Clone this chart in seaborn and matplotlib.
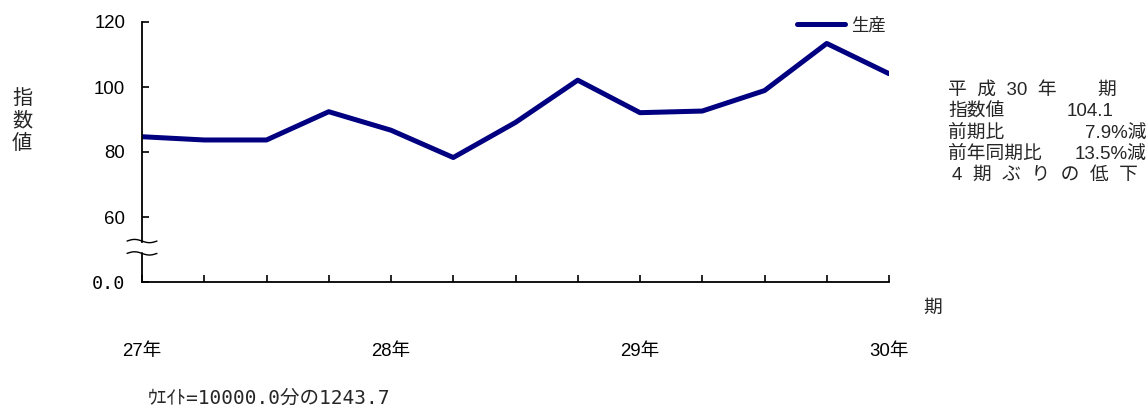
import numpy as np
import pandas as pd
import matplotlib
matplotlib.use("Agg")
import matplotlib.pyplot as plt
import seaborn as sns

# 生産指数（期ごと）
periods = list(range(13))
production = [84.7, 83.7, 83.7, 92.4, 86.7, 78.3, 89.1, 102.1, 92.1, 92.6, 98.9, 113.4, 104.1]
year_labels = ["27年", "", "", "", "28年", "", "", "", "29年", "", "", "", "30年"]
ytick_values = [40, 60, 80, 100, 120]
ytick_labels = ["0.0", "60", "80", "100", "120"]

sns.set_style("white")
SANS = ["Liberation Sans", "Noto Sans CJK JP"]
MONO = ["DejaVu Sans Mono", "Noto Sans CJK JP"]
plt.rcParams["font.family"] = SANS

W, H = 1148, 408
fig = plt.figure(figsize=(W / 100, H / 100), dpi=100)
ax = fig.add_axes([142 / W, 1 - 282 / H, (889 - 142) / W, (282 - 22) / H])

df = pd.DataFrame({"期": periods, "生産": production})
sns.lineplot(data=df, x="期", y="生産", ax=ax, color="#000080", linewidth=3.6,
             label="生産", legend=False)

ax.set_xlim(0, 12)
ax.set_ylim(40, 120)
ax.set_xticks(periods)
ax.set_xticklabels(year_labels, fontsize=13.4)
ax.set_yticks(ytick_values)
ax.set_yticklabels(ytick_labels, fontsize=13.4)
ax.get_yticklabels()[0].set_family(MONO)
ax.get_yticklabels()[0].set_fontsize(13.2)
ax.tick_params(axis="x", bottom=True, direction="in", length=5, width=1.2, pad=44, colors="black")
ax.tick_params(axis="y", left=True, direction="in", length=5, width=1.2, pad=12, colors="black")
ax.set_xlabel("")
ax.set_ylabel("")

for s in ["top", "right"]:
    ax.spines[s].set_visible(False)
for s in ["left", "bottom"]:
    ax.spines[s].set_color("black")
    ax.spines[s].set_linewidth(1.3)

# 軸の省略記号
ax.spines["left"].set_bounds(52.4, 120)
ytr = ax.get_yaxis_transform()
ax.plot([0, 0], [40, 48.9], color="black", lw=1.3, transform=ytr, clip_on=False)
t = np.linspace(0, 1, 40)
wx = -0.02 + 0.04 * t
for base in [52.6, 48.8]:
    ax.plot(wx, base + 0.5 * np.sin(2 * np.pi * t), color="black", lw=1.0,
            transform=ytr, clip_on=False)

leg = ax.legend(loc="center left", bbox_to_anchor=(797 / W, 1 - 25 / H),
                bbox_transform=fig.transFigure, frameon=False, fontsize=12.5,
                handlelength=2.76, handletextpad=0.35, borderpad=0, borderaxespad=0)

def ftext(x, y, s, **kw):
    fig.text(x / W, 1 - y / H, s, **kw)

ftext(22, 121, "指\n数\n値", fontsize=14.5, ha="center", va="center", linespacing=1.2)
ftext(933, 308, "期", fontsize=13.5, ha="center", va="center")
ftext(148, 398, "ｳｴｲﾄ=10000.0分の1243.7", fontsize=14, ha="left", va="center", family=MONO)

fs = 13.5
ftext(948, 90, "平  成  30  年", fontsize=fs, va="center")
ftext(1107, 90, "期", fontsize=fs, va="center", ha="center")
ftext(948, 112, "指数値", fontsize=fs, va="center")
ftext(1067, 112, "104.1", fontsize=fs, va="center")
ftext(948, 133, "前期比", fontsize=fs, va="center")
ftext(1147, 133, "7.9%減", fontsize=fs, va="center", ha="right")
ftext(948, 154, "前年同期比", fontsize=fs, va="center")
ftext(1147, 154, "13.5%減", fontsize=fs, va="center", ha="right")
ftext(952, 175, "4  期  ぶ  り  の  低  下", fontsize=fs, va="center")

fig.savefig("out.png", dpi=100)
